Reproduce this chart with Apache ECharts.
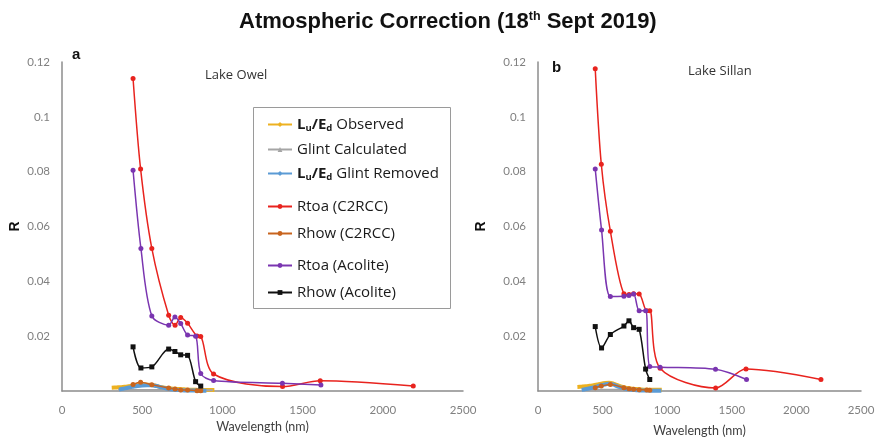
<!DOCTYPE html>
<html>
<head>
<meta charset="utf-8">
<script src="https://cdn.jsdelivr.net/npm/echarts@6/dist/echarts.min.js"></script>
<style>
  html, body { margin: 0; padding: 0; background: #fff; }
  #chart { width: 878px; height: 447px; }
</style>
</head>
<body>
<div id="chart"></div>
<script>
// Sentinel-2 band centres (nm)
const c2rccBands   = [443, 490, 560, 665, 705, 740, 783, 842, 865, 945, 1375, 1610, 2190];
const acoliteBands = [443, 492, 560, 665, 704, 740, 783, 833, 865, 945, 1374, 1614];
const rhowBands    = [443, 490, 560, 665, 705, 740, 783, 842, 865];
const acoRhowBands = [443, 492, 560, 665, 704, 740, 783, 833, 865];

// ---- Lake Owel (panel a) ----
const owelObsWl   = [310, 340, 370, 400, 430, 460, 490, 520, 550, 580, 610, 640, 670, 700, 730, 760, 790, 820, 850, 880, 910, 950];
const owelObs     = [0.0012, 0.0013, 0.0014, 0.0016, 0.0018, 0.0020, 0.0022, 0.0023, 0.0023, 0.0020, 0.0015, 0.0012, 0.0010, 0.0008, 0.0007, 0.0006, 0.0005, 0.0005, 0.0004, 0.0004, 0.0004, 0.0004];
const owelGlintWl = [350, 400, 450, 500, 550, 600, 650, 700, 750, 800, 850, 900, 940];
const owelGlint   = [0.0004, 0.0004, 0.0004, 0.0004, 0.0004, 0.0004, 0.0004, 0.0003, 0.0003, 0.0003, 0.0003, 0.0003, 0.0003];
const owelCorrWl  = [355, 380, 410, 440, 470, 500, 530, 560, 590, 620, 650, 680, 710, 740, 770, 800, 830, 860, 900];
const owelCorr    = [0.0005, 0.0008, 0.0012, 0.0015, 0.0018, 0.0020, 0.0021, 0.0021, 0.0018, 0.0013, 0.0009, 0.0006, 0.0004, 0.0003, 0.0002, 0.0002, 0.0002, 0.0001, 0.0001];
const owelRtoaC2rcc = [0.114, 0.081, 0.052, 0.0276, 0.024, 0.0268, 0.0247, 0.0201, 0.0199, 0.0062, 0.0016, 0.0037, 0.0018];
const owelRhowC2rcc = [0.0024, 0.0032, 0.0023, 0.0011, 0.0007, 0.0004, 0.0004, 0.0001, 0.0001];
const owelRtoaAco   = [0.0805, 0.052, 0.0274, 0.024, 0.027, 0.0246, 0.0204, 0.020, 0.0064, 0.0038, 0.0028, 0.0022];
const owelRhowAco   = [0.0161, 0.0084, 0.0088, 0.0153, 0.0144, 0.0132, 0.013, 0.0034, 0.0018];

// ---- Lake Sillan (panel b) ----
const sillObsWl   = [305, 340, 370, 400, 430, 460, 490, 520, 550, 580, 610, 640, 670, 700, 730, 760, 790, 820, 850, 880, 910, 958];
const sillObs     = [0.0015, 0.0016, 0.0017, 0.0019, 0.0021, 0.0024, 0.0027, 0.0029, 0.0030, 0.0028, 0.0022, 0.0017, 0.0013, 0.0010, 0.0008, 0.0007, 0.0006, 0.0005, 0.0005, 0.0005, 0.0005, 0.0005];
const sillGlintWl = [340, 400, 450, 500, 550, 600, 650, 700, 750, 800, 850, 900, 950];
const sillGlint   = [0.0005, 0.0005, 0.0005, 0.0005, 0.0005, 0.0005, 0.0004, 0.0004, 0.0004, 0.0004, 0.0004, 0.0004, 0.0004];
const sillCorrWl  = [338, 370, 400, 430, 460, 490, 520, 550, 580, 610, 640, 670, 700, 730, 760, 790, 820, 850, 880, 920, 955];
const sillCorr    = [0.0004, 0.0007, 0.0010, 0.0013, 0.0017, 0.0021, 0.0024, 0.0026, 0.0024, 0.0018, 0.0013, 0.0009, 0.0006, 0.0004, 0.0003, 0.0002, 0.0002, 0.0002, 0.0001, 0.0001, 0.0001];
const sillRtoaC2rcc = [0.1175, 0.0827, 0.0583, 0.0355, 0.0352, 0.0355, 0.0354, 0.0293, 0.0293, 0.0083, 0.0011, 0.008, 0.0042];
const sillRhowC2rcc = [0.0012, 0.0018, 0.0024, 0.0012, 0.0008, 0.0006, 0.0005, 0.0004, 0.0003];
const sillRtoaAco   = [0.081, 0.0587, 0.0345, 0.0346, 0.0348, 0.0354, 0.0293, 0.0293, 0.0089, 0.0087, 0.0079, 0.0042];
const sillRhowAco   = [0.0235, 0.0157, 0.0206, 0.0237, 0.0256, 0.0231, 0.0225, 0.008, 0.0042];

// Axis ticks
const xTicks = { min: 0, max: 2500, interval: 500 };
const yTicks = { min: 0, max: 0.12, interval: 0.02 };

const NAMES = {
  obs: 'Lu/Ed Observed', glint: 'Glint Calculated', corr: 'Lu/Ed Glint Removed',
  rtoaC: 'Rtoa (C2RCC)', rhowC: 'Rhow (C2RCC)', rtoaA: 'Rtoa (Acolite)', rhowA: 'Rhow (Acolite)'
};
const COLORS = {
  obs: '#EDB120', glint: '#A5A5A5', corr: '#5B9BD5',
  rtoaC: '#E8231E', rhowC: '#C8641E', rtoaA: '#7A35B0', rhowA: '#111111'
};

function pairs(xs, ys) { return xs.map((x, i) => [x, ys[i]]); }

function series(key, xs, ys, idx, opts) {
  return Object.assign({
    name: NAMES[key], type: 'line', xAxisIndex: idx, yAxisIndex: idx,
    data: pairs(xs, ys), smooth: 0.3, color: COLORS[key],
    lineStyle: { width: 1.5, color: COLORS[key] },
    itemStyle: { color: COLORS[key] },
    symbol: 'circle', symbolSize: 5, z: 3
  }, opts || {});
}

function panelSeries(idx, d) {
  return [
    series('obs', d.obsWl, d.obs, idx, { lineStyle: { width: 4, color: COLORS.obs }, showSymbol: false, symbol: 'diamond', symbolSize: 3, z: 2 }),
    series('glint', d.glintWl, d.glint, idx, { lineStyle: { width: 2, color: COLORS.glint }, showSymbol: false, symbol: 'triangle', symbolSize: 5, z: 2 }),
    series('corr', d.corrWl, d.corr, idx, { lineStyle: { width: 4, color: COLORS.corr }, showSymbol: false, symbol: 'diamond', symbolSize: 3, z: 2 }),
    series('rtoaC', c2rccBands, d.rtoaC, idx),
    series('rhowC', rhowBands, d.rhowC, idx, { symbolSize: 5 }),
    series('rtoaA', acoliteBands, d.rtoaA, idx),
    series('rhowA', acoRhowBands, d.rhowA, idx, { symbol: 'rect', symbolSize: 5 })
  ];
}

const axisLabelStyle = { color: '#808080', fontSize: 11.5, fontFamily: 'Lato, "Noto Sans", sans-serif' };

function xAxis(idx, gap) {
  return Object.assign({
    type: 'value', gridIndex: idx,
    name: 'Wavelength (nm)', nameLocation: 'middle', nameGap: gap,
    nameTextStyle: { color: '#404040', fontSize: 12.5, fontFamily: 'Lato, "Noto Sans", sans-serif' },
    axisLine: { lineStyle: { color: '#8c8c8c', width: 1.5 } },
    axisTick: { show: false }, splitLine: { show: false },
    axisLabel: Object.assign({ margin: 13, formatter: v => String(v) }, axisLabelStyle)
  }, xTicks);
}

function yAxis(idx, gap) {
  return Object.assign({
    type: 'value', gridIndex: idx,
    name: 'R', nameLocation: 'middle', nameRotate: 90, nameGap: gap,
    nameTextStyle: { color: '#111', fontSize: 14, fontWeight: 'bold', fontFamily: 'Liberation Sans, Arial, sans-serif' },
    axisLine: { show: true, lineStyle: { color: '#8c8c8c', width: 1.5 } },
    axisTick: { show: false }, splitLine: { show: false },
    axisLabel: Object.assign({ margin: 12, formatter: v => (v === 0 ? '' : String(+v.toFixed(2))) }, axisLabelStyle)
  }, yTicks);
}

const legendFont = '"Open Sans", "Noto Sans", sans-serif';
const legendText = {
  color: '#1a1a1a', fontSize: 15, fontFamily: legendFont,
  rich: {
    b: { fontWeight: 'bold', fontSize: 15, color: '#1a1a1a', fontFamily: legendFont },
    s: { fontWeight: 'bold', fontSize: 9.5, color: '#1a1a1a', padding: [7, 0, 0, 0], fontFamily: legendFont }
  }
};
function legendFmt(name) {
  return name.replace('Lu/Ed', '{b|L}{s|u}{b|/E}{s|d}');
}
function legend(names, top, gap) {
  return {
    data: names, orient: 'vertical', left: 267, top: top, itemGap: gap,
    itemWidth: 24, itemHeight: 6, formatter: legendFmt,
    textStyle: legendText, selectedMode: false, padding: 0
  };
}

const chart = echarts.init(document.getElementById('chart'), null, { renderer: 'canvas' });
chart.setOption({
  animation: false,
  title: {
    text: '{t|Atmospheric Correction (18}{sup|th}{t| Sept 2019)}',
    left: 234, top: 5,
    textStyle: {
      rich: {
        t: { fontSize: 22, fontWeight: 'bold', color: '#111', fontFamily: '"Liberation Sans Narrow", "Liberation Sans", Arial, sans-serif' },
        sup: { fontSize: 12.5, fontWeight: 'bold', color: '#111', padding: [0, 0, 10, 0], fontFamily: '"Liberation Sans Narrow", "Liberation Sans", Arial, sans-serif' }
      }
    }
  },
  grid: [
    { left: 62, right: 415, top: 62, bottom: 56 },
    { left: 538, right: 17, top: 62, bottom: 56 }
  ],
  xAxis: [xAxis(0, 29), xAxis(1, 33)],
  yAxis: [yAxis(0, 40), yAxis(1, 50)],
  legend: [
    legend([NAMES.obs, NAMES.glint, NAMES.corr], 117, 9),
    legend([NAMES.rtoaC, NAMES.rhowC], 199, 12),
    legend([NAMES.rtoaA, NAMES.rhowA], 258, 12)
  ],
  graphic: [
    { type: 'rect', shape: { x: 253.5, y: 107.5, width: 197, height: 201 }, style: { fill: 'none', stroke: '#9a9a9a', lineWidth: 1 }, z: -1 },
    { type: 'text', x: 72, y: 47, style: { text: 'a', fontSize: 15, fontWeight: 'bold', fill: '#111', fontFamily: 'Liberation Sans, Arial, sans-serif' } },
    { type: 'text', x: 552, y: 60, style: { text: 'b', fontSize: 15, fontWeight: 'bold', fill: '#111', fontFamily: 'Liberation Sans, Arial, sans-serif' } },
    { type: 'text', x: 205, y: 69, style: { text: 'Lake Owel', fontSize: 13, fill: '#333', fontFamily: legendFont } },
    { type: 'text', x: 688, y: 65, style: { text: 'Lake Sillan', fontSize: 13, fill: '#333', fontFamily: legendFont } }
  ],
  series: [].concat(
    panelSeries(0, { obsWl: owelObsWl, obs: owelObs, glintWl: owelGlintWl, glint: owelGlint, corrWl: owelCorrWl, corr: owelCorr,
                     rtoaC: owelRtoaC2rcc, rhowC: owelRhowC2rcc, rtoaA: owelRtoaAco, rhowA: owelRhowAco }),
    panelSeries(1, { obsWl: sillObsWl, obs: sillObs, glintWl: sillGlintWl, glint: sillGlint, corrWl: sillCorrWl, corr: sillCorr,
                     rtoaC: sillRtoaC2rcc, rhowC: sillRhowC2rcc, rtoaA: sillRtoaAco, rhowA: sillRhowAco })
  )
});
</script>
</body>
</html>
